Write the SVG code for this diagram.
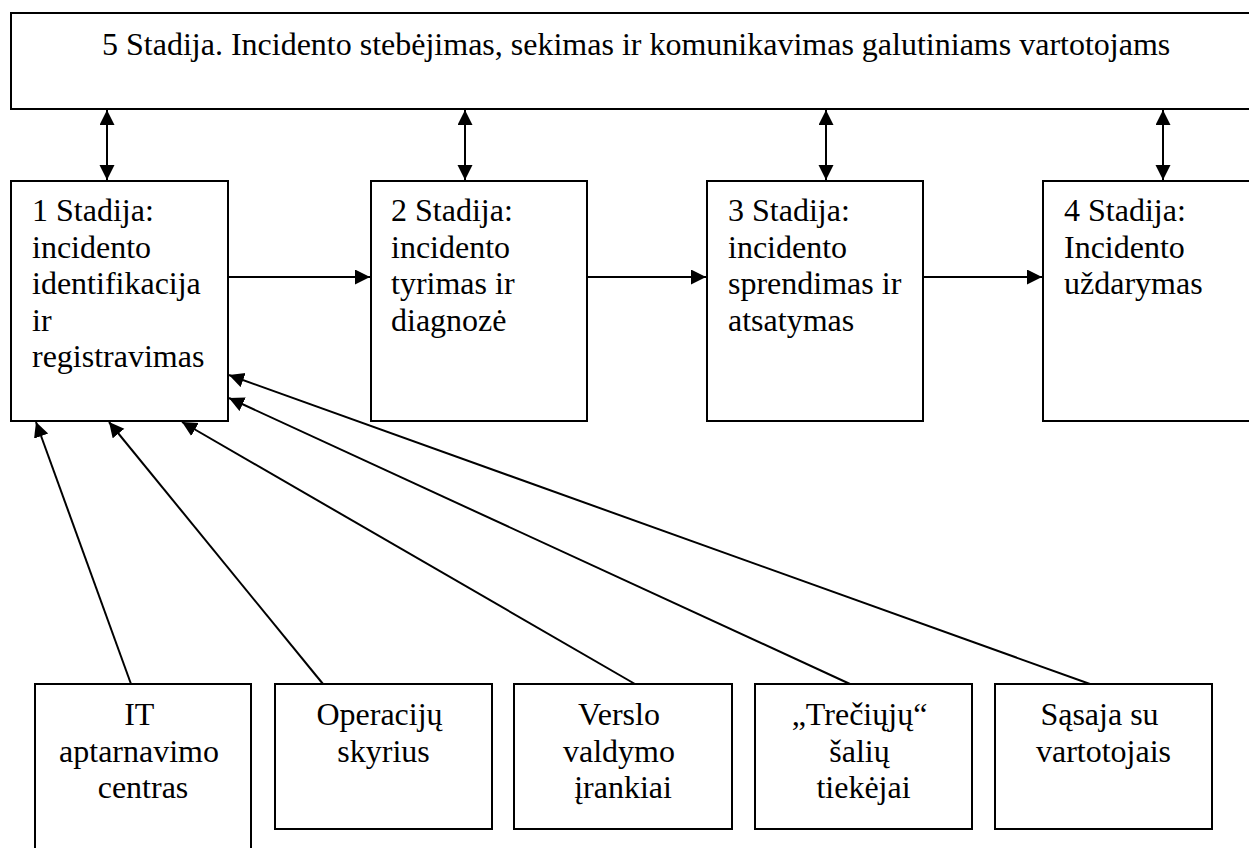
<svg xmlns="http://www.w3.org/2000/svg" width="1249" height="848" viewBox="0 0 1249 848">
  <style>
    .box { fill: #ffffff; stroke: #000000; stroke-width: 2; }
    .lbl { font-family: "Liberation Serif", "Times New Roman", serif; font-size: 32px; fill: #000000; }
    .mid { text-anchor: middle; }
    .conn { stroke: #000000; stroke-width: 2; fill: none; }
  </style>
  <defs>
    <marker id="arrow" markerUnits="userSpaceOnUse" markerWidth="16" markerHeight="16" refX="15" refY="7.5" orient="auto-start-reverse">
      <path d="M0,0 L15,7.5 L0,15 Z" fill="#000000"/>
    </marker>
  </defs>

  <!-- Stage 5: monitoring and communication -->
  <g id="stage5">
    <rect class="box" x="11" y="13" width="1260" height="96"/>
    <text class="lbl" x="102" y="55">5 Stadija. Incidento stebėjimas, sekimas ir komunikavimas galutiniams vartotojams</text>
  </g>

  <!-- Stages 1-4 -->
  <g id="stage1">
    <rect class="box" x="11" y="181" width="217" height="240"/>
    <text class="lbl" x="32" y="221">
      <tspan x="32" y="221">1 Stadija:</tspan>
      <tspan x="32" y="257.5">incidento</tspan>
      <tspan x="32" y="294">identifikacija</tspan>
      <tspan x="32" y="330.5">ir</tspan>
      <tspan x="32" y="367">registravimas</tspan>
    </text>
  </g>
  <g id="stage2">
    <rect class="box" x="371" y="181" width="216" height="240"/>
    <text class="lbl">
      <tspan x="391" y="221">2 Stadija:</tspan>
      <tspan x="391" y="257.5">incidento</tspan>
      <tspan x="391" y="294">tyrimas ir</tspan>
      <tspan x="391" y="330.5">diagnozė</tspan>
    </text>
  </g>
  <g id="stage3">
    <rect class="box" x="707" y="181" width="216" height="240"/>
    <text class="lbl">
      <tspan x="728" y="221">3 Stadija:</tspan>
      <tspan x="728" y="257.5">incidento</tspan>
      <tspan x="728" y="294">sprendimas ir</tspan>
      <tspan x="728" y="330.5">atsatymas</tspan>
    </text>
  </g>
  <g id="stage4">
    <rect class="box" x="1043" y="181" width="240" height="240"/>
    <text class="lbl">
      <tspan x="1064" y="221">4 Stadija:</tspan>
      <tspan x="1064" y="257.5">Incidento</tspan>
      <tspan x="1064" y="294">uždarymas</tspan>
    </text>
  </g>

  <!-- Incident sources -->
  <g id="src-it">
    <rect class="box" x="35" y="684" width="216" height="180"/>
    <text class="lbl mid">
      <tspan x="143" y="725">IT</tspan>
      <tspan x="143" y="761.5">aptarnavimo</tspan>
      <tspan x="143" y="798">centras</tspan>
    </text>
  </g>
  <g id="src-ops">
    <rect class="box" x="275" y="684" width="217" height="145"/>
    <text class="lbl mid">
      <tspan x="383.5" y="725">Operacijų</tspan>
      <tspan x="383.5" y="761.5">skyrius</tspan>
    </text>
  </g>
  <g id="src-tools">
    <rect class="box" x="514" y="684" width="218" height="145"/>
    <text class="lbl mid">
      <tspan x="623" y="725">Verslo</tspan>
      <tspan x="623" y="761.5">valdymo</tspan>
      <tspan x="623" y="798">įrankiai</tspan>
    </text>
  </g>
  <g id="src-vendors">
    <rect class="box" x="755" y="684" width="217" height="145"/>
    <text class="lbl mid">
      <tspan x="863.5" y="725">„Trečiųjų“</tspan>
      <tspan x="863.5" y="761.5">šalių</tspan>
      <tspan x="863.5" y="798">tiekėjai</tspan>
    </text>
  </g>
  <g id="src-users">
    <rect class="box" x="995" y="684" width="217" height="145"/>
    <text class="lbl mid">
      <tspan x="1103.5" y="725">Sąsaja su</tspan>
      <tspan x="1103.5" y="761.5">vartotojais</tspan>
    </text>
  </g>

  <!-- Connectors -->
  <g id="connectors">
    <!-- stage 5 <-> stages 1-4 -->
    <line class="conn" x1="107" y1="110" x2="107" y2="180" marker-start="url(#arrow)" marker-end="url(#arrow)"/>
    <line class="conn" x1="465" y1="110" x2="465" y2="180" marker-start="url(#arrow)" marker-end="url(#arrow)"/>
    <line class="conn" x1="826" y1="110" x2="826" y2="180" marker-start="url(#arrow)" marker-end="url(#arrow)"/>
    <line class="conn" x1="1163" y1="110" x2="1163" y2="180" marker-start="url(#arrow)" marker-end="url(#arrow)"/>
    <!-- stage flow -->
    <line class="conn" x1="228" y1="277" x2="370" y2="277" marker-end="url(#arrow)"/>
    <line class="conn" x1="587" y1="277" x2="706" y2="277" marker-end="url(#arrow)"/>
    <line class="conn" x1="923" y1="277" x2="1042" y2="277" marker-end="url(#arrow)"/>
    <!-- sources -> stage 1 -->
    <line class="conn" x1="131" y1="684" x2="36" y2="422" marker-end="url(#arrow)"/>
    <line class="conn" x1="323" y1="684" x2="109" y2="422" marker-end="url(#arrow)"/>
    <line class="conn" x1="635" y1="684" x2="182" y2="422" marker-end="url(#arrow)"/>
    <line class="conn" x1="850" y1="684" x2="229" y2="398" marker-end="url(#arrow)"/>
    <line class="conn" x1="1090" y1="684" x2="229" y2="375" marker-end="url(#arrow)"/>
  </g>
</svg>
